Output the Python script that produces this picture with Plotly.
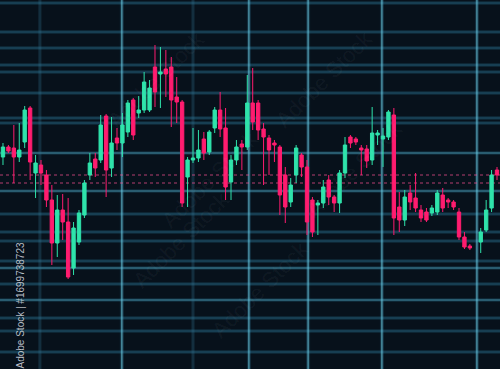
import plotly.graph_objects as go

# ---- data (price units, one slot per candle period) ----
periods = list(range(87)) + [88, 89, 90, 91]
opens = [212,222,221,212,227,261,196,204,194,169,126,159,147,101,127,154,194,210,209,253,
         201,231,226,237,269,256,259,259,302,295,300,302,272,267,192,209,211,230,217,241,
         259,241,187,209,225,222,266,266,240,231,226,222,194,167,194,214,202,169,164,166,
         189,172,166,196,232,230,221,220,209,234,230,232,254,162,149,176,171,159,157,156,
         157,174,169,167,157,132,123,127,139,161,199]
highs = [226,224,244,246,263,263,214,209,199,184,174,175,171,147,159,189,216,216,254,255,
         252,241,256,269,271,273,297,289,324,322,319,312,292,269,212,241,239,237,239,262,
         277,261,214,229,229,294,301,269,246,234,229,224,202,191,224,216,209,172,169,189,
         194,174,199,232,234,232,224,224,262,239,241,259,261,177,179,184,196,164,161,164,
         179,181,171,169,161,137,125,141,169,199,202]
lows = [204,216,186,207,221,189,171,184,162,104,112,129,90,94,124,151,189,192,206,172,
        192,219,212,232,229,251,256,257,262,261,272,242,246,162,162,206,207,209,214,236,
        232,169,169,204,199,219,239,229,184,194,207,154,146,162,186,192,134,132,134,161,
        164,157,156,191,221,224,194,201,204,224,202,229,134,137,143,159,157,147,147,153,
        154,157,161,159,129,120,119,116,137,157,189]
closes = [222,218,212,219,259,207,206,196,169,126,159,147,92,141,156,186,206,201,244,199,
          226,226,244,266,234,259,287,281,277,297,295,269,267,166,209,211,219,216,237,259,
          240,182,209,222,222,266,247,239,232,219,224,174,162,184,221,202,147,137,166,182,
          172,166,196,224,226,227,219,208,236,236,233,257,151,149,172,167,161,151,149,161,
          176,161,167,162,132,122,121,137,159,194,194]

grid_levels = [366, 337, 321, 304, 297, 276, 251, 246, 216, 178, 155, 137, 128, 108, 101, 85, 69, 51, 38, 17]
bright_levels = [216, 178, 101, 69]
marker_levels = [194, 186]
grid_periods = [21.9, 45.3, 56.2, 69.8, 87.3]
dim_periods = [6.8, 35.0]

watermark = "Adobe Stock | #1699738723"
stamp = "Adobe Stock"

BG = "#07111b"
GREEN = "#2fe3ab"
PINK = "#ff1c6f"

fig = go.Figure()
fig.add_trace(go.Candlestick(
    x=periods, open=opens, high=highs, low=lows, close=closes,
    increasing=dict(line=dict(color=GREEN, width=1), fillcolor=GREEN),
    decreasing=dict(line=dict(color=PINK, width=1), fillcolor=PINK),
    whiskerwidth=0, showlegend=False, hoverinfo="skip",
))

shapes = []
for lv in grid_levels:
    bright = lv in bright_levels
    shapes.append(dict(type="line", xref="paper", yref="y", x0=0, x1=1, y0=lv, y1=lv, layer="below",
                       line=dict(color="rgba(50,140,180,0.16)", width=4)))
    shapes.append(dict(type="line", xref="paper", yref="y", x0=0, x1=1, y0=lv, y1=lv, layer="below",
                       line=dict(color="rgba(95,195,225,0.7)" if bright else "rgba(55,140,175,0.5)",
                                 width=1.2)))
for p in grid_periods:
    shapes.append(dict(type="line", xref="x", yref="paper", x0=p, x1=p, y0=0, y1=1, layer="below",
                       line=dict(color="rgba(70,170,205,0.2)", width=4)))
    shapes.append(dict(type="line", xref="x", yref="paper", x0=p, x1=p, y0=0, y1=1, layer="below",
                       line=dict(color="rgba(110,205,230,0.75)", width=1.2)))
for p in dim_periods:
    shapes.append(dict(type="line", xref="x", yref="paper", x0=p, x1=p, y0=0, y1=1, layer="below",
                       line=dict(color="rgba(50,115,145,0.3)", width=3)))
for lv in marker_levels:
    shapes.append(dict(type="line", xref="paper", yref="y", x0=0, x1=1, y0=lv, y1=lv, layer="below",
                       line=dict(color="rgba(255,80,150,0.7)", width=1, dash="dot")))

annotations = [dict(text=watermark, xref="paper", yref="y", x=0.024, y=63, textangle=-90,
                    showarrow=False, font=dict(family="Liberation Sans", size=10,
                                                color="rgba(215,220,225,0.85)"))]
for (xp, yp) in [(0.2, 290), (0.42, 190), (0.52, 80), (0.76, 290), (0.82, 200), (0.25, 130)]:
    annotations.append(dict(text=stamp, xref="paper", yref="y", x=xp, y=yp, textangle=-45,
                            showarrow=False, font=dict(family="Liberation Sans", size=22,
                                                       color="rgba(255,255,255,0.05)")))

fig.update_layout(
    width=500, height=369, margin=dict(l=0, r=0, t=0, b=0),
    paper_bgcolor=BG, plot_bgcolor=BG, boxgap=0.12,
    xaxis=dict(range=[-0.55, 91.55], showgrid=False, zeroline=False, showticklabels=False,
               rangeslider=dict(visible=False), fixedrange=True),
    yaxis=dict(range=[0, 369], showgrid=False, zeroline=False, showticklabels=False, fixedrange=True),
    shapes=shapes, annotations=annotations,
)

fig.write_html("out.html")
